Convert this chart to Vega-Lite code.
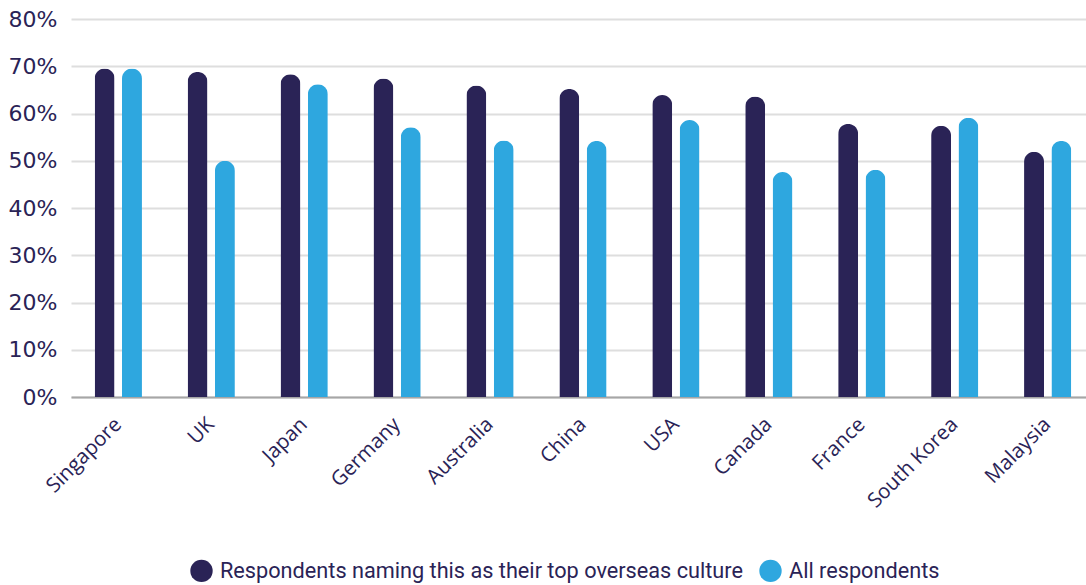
{
  "$schema": "https://vega.github.io/schema/vega-lite/v6.json",
  "autosize": {"type": "none"},
  "width": 1015,
  "height": 378,
  "padding": {"left": 71, "top": 19, "right": 0, "bottom": 188},
  "background": "white",
  "data": {
    "values": [
      {"country": "Singapore", "series": "Respondents naming this as their top overseas culture", "value": 0.695},
      {"country": "Singapore", "series": "All respondents", "value": 0.695},
      {"country": "UK", "series": "Respondents naming this as their top overseas culture", "value": 0.688},
      {"country": "UK", "series": "All respondents", "value": 0.500},
      {"country": "Japan", "series": "Respondents naming this as their top overseas culture", "value": 0.683},
      {"country": "Japan", "series": "All respondents", "value": 0.662},
      {"country": "Germany", "series": "Respondents naming this as their top overseas culture", "value": 0.674},
      {"country": "Germany", "series": "All respondents", "value": 0.571},
      {"country": "Australia", "series": "Respondents naming this as their top overseas culture", "value": 0.659},
      {"country": "Australia", "series": "All respondents", "value": 0.543},
      {"country": "China", "series": "Respondents naming this as their top overseas culture", "value": 0.652},
      {"country": "China", "series": "All respondents", "value": 0.542},
      {"country": "USA", "series": "Respondents naming this as their top overseas culture", "value": 0.639},
      {"country": "USA", "series": "All respondents", "value": 0.586},
      {"country": "Canada", "series": "Respondents naming this as their top overseas culture", "value": 0.636},
      {"country": "Canada", "series": "All respondents", "value": 0.476},
      {"country": "France", "series": "Respondents naming this as their top overseas culture", "value": 0.578},
      {"country": "France", "series": "All respondents", "value": 0.481},
      {"country": "South Korea", "series": "Respondents naming this as their top overseas culture", "value": 0.574},
      {"country": "South Korea", "series": "All respondents", "value": 0.591},
      {"country": "Malaysia", "series": "Respondents naming this as their top overseas culture", "value": 0.519},
      {"country": "Malaysia", "series": "All respondents", "value": 0.542}
    ]
  },
  "mark": {"type": "bar", "cornerRadiusTopLeft": 10, "cornerRadiusTopRight": 10},
  "encoding": {
    "x": {
      "field": "country",
      "type": "nominal",
      "sort": null,
      "title": null,
      "scale": {"paddingInner": 0.491, "paddingOuter": 0.2545, "range": [0, 1024]},
      "axis": {
        "labelAngle": -45,
        "labelAlign": "right",
        "labelBaseline": "middle",
        "labelFont": "Open Sans",
        "labelFontSize": 20.5,
        "labelColor": "#2a2356",
        "labelPadding": 24,
        "ticks": false,
        "domainColor": "#a6a6a6",
        "domainWidth": 2
      }
    },
    "xOffset": {
      "field": "series",
      "type": "nominal",
      "sort": ["Respondents naming this as their top overseas culture", "All respondents"],
      "scale": {"paddingInner": 0.27, "paddingOuter": 0}
    },
    "y": {
      "field": "value",
      "type": "quantitative",
      "title": null,
      "scale": {"domain": [0, 0.8]},
      "axis": {
        "values": [0, 0.1, 0.2, 0.3, 0.4, 0.5, 0.6, 0.7, 0.8],
        "format": ".0%",
        "domain": false,
        "ticks": false,
        "labelPadding": 14,
        "labelFont": "DejaVu Sans",
        "labelFontSize": 22,
        "labelColor": "#2a2356",
        "gridColor": "#dedede",
        "gridWidth": 2
      }
    },
    "color": {
      "field": "series",
      "type": "nominal",
      "scale": {
        "domain": ["Respondents naming this as their top overseas culture", "All respondents"],
        "range": ["#2a2356", "#2ea7df"]
      },
      "legend": {
        "title": null,
        "orient": "none",
        "direction": "horizontal",
        "legendX": 119,
        "legendY": 540,
        "symbolType": "circle",
        "symbolSize": 500,
        "symbolStrokeWidth": 0,
        "labelFont": "Roboto",
        "labelFontSize": 21.7,
        "labelColor": "#2a2356",
        "labelOffset": 7,
        "columnPadding": 16,
        "labelLimit": 800
      }
    }
  },
  "config": {"view": {"stroke": null}}
}
